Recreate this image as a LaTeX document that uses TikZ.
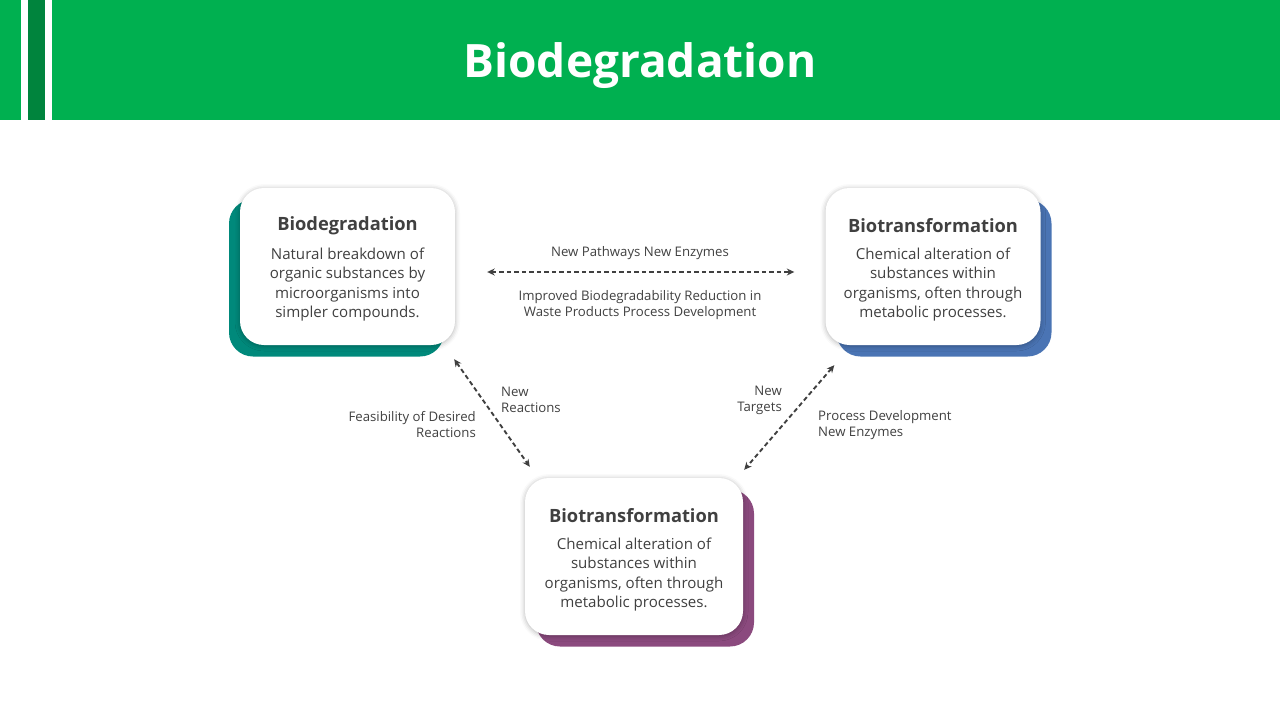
\documentclass[tikz,border=0pt]{standalone}
\usepackage{fontspec}
\setmainfont{Open Sans}
\usetikzlibrary{positioning,shadows.blur,arrows.meta}
\definecolor{headgreen}{RGB}{0,176,80}
\definecolor{darkgreen}{RGB}{0,132,61}
\definecolor{tealback}{RGB}{0,137,123}
\definecolor{blueback}{RGB}{74,116,180}
\definecolor{plumback}{RGB}{139,74,126}
\definecolor{textgray}{RGB}{64,64,64}
\begin{document}
\begin{tikzpicture}[x=1pt, y=-1pt,
    every node/.style={text=textgray},
    card/.style={rectangle, rounded corners=24pt, fill=white, minimum width=215pt,
        minimum height=157pt, inner sep=0pt,
        blur shadow={shadow xshift=0pt, shadow yshift=-1pt, shadow blur radius=5pt, shadow opacity=30}},
    backcard/.style={rectangle, rounded corners=24pt, minimum width=215pt,
        minimum height=157pt, inner sep=0pt},
    cardtitle/.style={font=\fontsize{18.3}{22}\selectfont\bfseries, inner sep=0pt},
    cardbody/.style={font=\fontsize{15.1}{19.4}\selectfont, align=center, inner sep=0pt},
    link/.style={draw=textgray, line width=1.9pt, dash pattern=on 4.5pt off 3pt,
        {Stealth[length=7.5pt,width=7pt]}-{Stealth[length=7.5pt,width=7pt]}},
    linklabel/.style={font=\fontsize{13.2}{16}\selectfont, inner sep=0pt}]
    \useasboundingbox (0,0) rectangle (1280,720);
    % header band
    \fill[headgreen] (0,0) rectangle (1280,120);
    \fill[white] (21,0) rectangle (28,120);
    \fill[darkgreen] (28,0) rectangle (45,120);
    \fill[white] (45,0) rectangle (52,120);
    \node[text=white, font=\fontsize{46}{54}\selectfont\bfseries] (head-title) at (640,66) {Biodegradation};
    % cards with coloured backs
    \foreach \name/\px/\py/\dx/\cardwd/\backcol in {bio/347.5/266.5/-11/215/tealback, tra/933/266.5/11/215/blueback, tfm/634/556.5/11/218/plumback} {
        \node[backcard, fill=\backcol, minimum width=\cardwd pt] (\name-back) at (\px+\dx,\py+11.5) {};
        \node[card, minimum width=\cardwd pt] (\name) at (\px,\py) {};
    }
    \node[cardtitle] (bio-title) at ([shift={(0,-41)}]bio.center) {Biodegradation};
    \node[cardbody, anchor=north] (bio-body) at ([shift={(0,-19)}]bio.center)
        {Natural breakdown of\\organic substances by\\microorganisms into\\simpler compounds.};
    \foreach \name in {tra,tfm} {
        \node[cardtitle] (\name-title) at ([shift={(0,-41)}]\name.center) {Biotransformation};
        \node[cardbody, anchor=north] (\name-body) at ([shift={(0,-19)}]\name.center)
            {Chemical alteration of\\substances within\\organisms, often through\\metabolic processes.};
    }
    % connectors
    \draw[link] ([shift={(32,5.5)}]bio.east) -- ([shift={(-31,5.5)}]tra.west);
    \draw[link] ([shift={(-1,14)}]bio.south east) -- ([shift={(5,-11)}]tfm.north west);
    \draw[link] ([shift={(9,20)}]tra.south west) -- ([shift={(1,-8)}]tfm.north east);
    % connector labels
    \node[linklabel] (lbl-pathways) at (640,253) {New Pathways New Enzymes};
    \node[linklabel, align=center] (lbl-improved) at (640,305)
        {Improved Biodegradability Reduction in\\Waste Products Process Development};
    \node[linklabel, align=left, anchor=west] (lbl-reactions) at (501,400) {New\\Reactions};
    \node[linklabel, align=right, anchor=east] (lbl-feasible) at (476,425) {Feasibility of Desired\\Reactions};
    \node[linklabel, align=right, anchor=east] (lbl-targets) at (782,400) {New\\Targets};
    \node[linklabel, align=left, anchor=west] (lbl-process) at (818,425) {Process Development\\New Enzymes};
\end{tikzpicture}
\end{document}
